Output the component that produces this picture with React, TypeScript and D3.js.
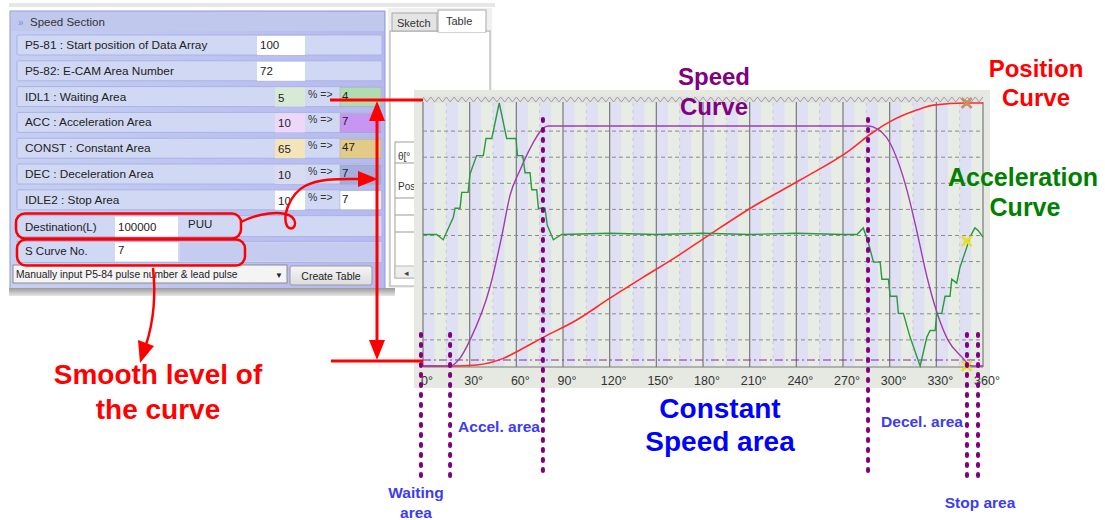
import React from 'react';
import * as d3 from 'd3';

// ---------- data ----------
const degreeTicks = [0, 30, 60, 90, 120, 150, 180, 210, 240, 270, 300, 330, 360];

// acceleration curve (deg, normalized accel -1..1)
const accelCurve: [number, number][] = [
  [0, 0], [8.8, 0], [13, -0.04], [19.5, 0.13], [20.6, 0.2], [23.8, 0.2], [24.9, 0.32],
  [29, 0.32], [30.2, 0.46], [34.5, 0.6], [38.8, 0.6], [40.5, 0.73], [44.2, 0.73],
  [49, 1.0], [53.8, 0.73], [59.8, 0.73], [60.7, 0.6], [64.1, 0.6], [65.6, 0.47],
  [68.8, 0.47], [69.9, 0.34], [73.1, 0.34], [74.2, 0.2], [78.4, 0.2], [79.9, 0.07],
  [83.8, -0.04], [89.2, 0], [120, 0.01], [150, 0], [180, 0.01], [210, 0], [240, 0.01],
  [270, 0], [279, 0], [283, 0.05], [286, -0.05], [289.6, -0.21], [293.9, -0.21],
  [295, -0.34], [299.2, -0.34], [300.3, -0.47], [304.6, -0.47], [305.6, -0.6],
  [308.8, -0.6], [313.1, -0.78], [319.6, -1.0], [323.9, -0.78], [326, -0.73],
  [329.2, -0.73], [330.3, -0.6], [333.5, -0.6], [335.6, -0.47], [338.8, -0.47],
  [339.9, -0.34], [343.1, -0.37], [345.2, -0.25], [349.5, -0.1], [351.6, -0.02],
  [354.8, 0.05], [356.9, 0.03], [360, -0.02],
];

// speed curve (deg, normalized speed 0..1)
const speedCurve: [number, number][] = [
  [0, 0], [17.3, 0], [23.8, 0.033], [30.2, 0.108], [43.1, 0.33], [50.6, 0.54],
  [55.9, 0.71], [62.4, 0.817], [70.7, 0.929], [77.1, 0.99], [80.4, 1.0],
  [286, 1.0], [289.3, 0.996], [300.2, 0.929], [311.1, 0.733], [317.6, 0.558],
  [324, 0.371], [330.5, 0.221], [337.5, 0.108], [347.1, 0.033], [350.4, 0.008],
  [352.9, 0], [360, 0],
];

// position curve (deg, normalized position 0..1)
const positionCurve: [number, number][] = [
  [0, 0], [19.3, 0], [34.5, 0.004], [51.6, 0.029], [62.4, 0.061], [77.3, 0.109],
  [98.8, 0.175], [120.2, 0.258], [141.4, 0.337], [163.1, 0.416], [183.4, 0.496],
  [210.2, 0.599], [242.4, 0.707], [274.5, 0.821], [288.4, 0.885], [300.2, 0.929],
  [317.4, 0.973], [328.1, 0.992], [349.5, 1.0], [360, 1.0],
];

// area divider angles (deg)
const dividerDeg = [-1.3, 17.4, 77.1, 286.1, 349.7, 356.8];
const dividerTall = [false, false, true, true, false, false];

// UI panel rows
const panelLabels = [
  'P5-81 : Start position of Data Array',
  'P5-82: E-CAM Area Number',
  'IDL1 : Waiting Area',
  'ACC : Acceleration Area',
  'CONST : Constant Area',
  'DEC : Deceleration Area',
  'IDLE2 : Stop Area',
];
const panelInputs = ['100', '72', '5', '10', '65', '10', '10'];
const panelResults = ['', '', '4', '7', '47', '7', '7'];
const inputColors = ['#ffffff', '#ffffff', '#d6ead6', '#eed8fa', '#f3e5b9', '#d9dcf0', '#ffffff'];
const resultColors = ['', '', '#b2dcb0', '#c896f2', '#e2cb86', '#a6addd', '#ffffff'];

const FONT = 'Liberation Sans, Arial, sans-serif';

export default function App() {
  const x = d3.scaleLinear().domain([0, 360]).range([423, 983]);
  const yPos = d3.scaleLinear().domain([0, 1]).range([366, 103]);
  const ySpd = d3.scaleLinear().domain([0, 1]).range([366, 126]);
  const yAcc = d3.scaleLinear().domain([-1, 1]).range([366, 103]);
  const yGrid = d3.scaleLinear().domain([0, 10]).range([366, 105]);

  const accLine = d3.line<[number, number]>().x(d => x(d[0])).y(d => yAcc(d[1]));
  const spdLine = d3.line<[number, number]>().x(d => x(d[0])).y(d => ySpd(d[1])).curve(d3.curveMonotoneX);
  const posLine = d3.line<[number, number]>().x(d => x(d[0])).y(d => yPos(d[1])).curve(d3.curveMonotoneX);

  const stripes = d3.range(0, 360, 7.5);
  const zig = d3.range(0, 361, 2.5).map((d, i) => [x(d), i % 2 === 0 ? 97 : 102] as [number, number]);
  const zigPath = d3.line()(zig) || '';

  const rowY = (i: number) => 35 + i * 25.8;

  const star = (cx: number, cy: number, color: string) => (
    <g>
      <path d={`M${cx - 5},${cy - 5}L${cx + 5},${cy + 5}M${cx + 5},${cy - 5}L${cx - 5},${cy + 5}`} stroke={color} strokeWidth={2.5} />
      <circle cx={cx} cy={cy} r={3} fill={color} opacity={0.7} />
    </g>
  );

  return (
    <svg width={1105} height={520} style={{ position: 'absolute', left: 0, top: 0, background: '#fff' }} fontFamily={FONT}>
      <defs>
        <linearGradient id="panelBg" x1="0" x2="1" y1="0" y2="0">
          <stop offset="0" stopColor="#c6cff1" />
          <stop offset="1" stopColor="#b6b8f0" />
        </linearGradient>
        <linearGradient id="bottomBar" x1="0" x2="0" y1="0" y2="1">
          <stop offset="0" stopColor="#9a9a9a" />
          <stop offset="1" stopColor="#e6e6e6" />
        </linearGradient>
        <linearGradient id="btn" x1="0" x2="0" y1="0" y2="1">
          <stop offset="0" stopColor="#f6f6f6" />
          <stop offset="1" stopColor="#dcdcdc" />
        </linearGradient>
      </defs>

      {/* top strip */}
      <rect x={9} y={3} width={486} height={4} fill="#e6e6e6" />

      {/* ---------- Speed Section panel ---------- */}
      <rect x={10} y={11} width={375} height={278} fill="url(#panelBg)" stroke="#8f9bd6" />
      <rect x={11} y={12} width={373} height={19} fill="#c0c8ee" />
      <text x={18} y={26} fontSize={10} fill="#8890c0">»</text>
      <text x={30} y={26} fontSize={11.5} fill="#333">Speed Section</text>
      {panelLabels.map((lab, i) => {
        const ty = rowY(i);
        return (
          <g key={lab}>
            <rect x={17} y={ty} width={365} height={20} fill="#d1d8f3" stroke="#a9b4e6" rx={1} />
            <text x={25} y={ty + 14} fontSize={11.8} fill="#222">{lab}</text>
            {i < 2 ? (
              <g>
                <rect x={257} y={ty + 1} width={48} height={19} fill="#fff" />
                <text x={260} y={ty + 14} fontSize={11.5} fill="#222">{panelInputs[i]}</text>
              </g>
            ) : (
              <g>
                <rect x={275} y={ty + 1} width={30} height={19} fill={inputColors[i]} />
                <text x={278} y={ty + 15} fontSize={11.5} fill="#222">{panelInputs[i]}</text>
                <text x={308} y={ty + 11} fontSize={10.5} fill="#333">% =&gt;</text>
                <rect x={340} y={ty + 1} width={41} height={19} fill={resultColors[i]} stroke="#9aa" strokeWidth={0.5} />
                <text x={342} y={ty + 13} fontSize={11.5} fill="#222">{panelResults[i]}</text>
              </g>
            )}
          </g>
        );
      })}
      {/* Destination row */}
      <rect x={17} y={rowY(7)} width={365} height={21} fill="#d1d8f3" stroke="#a9b4e6" />
      <text x={25} y={rowY(7) + 15} fontSize={11.5} fill="#222">Destination(L)</text>
      <rect x={115} y={rowY(7) + 1} width={63} height={20} fill="#fff" />
      <text x={118} y={rowY(7) + 15} fontSize={11.5} fill="#222">100000</text>
      <text x={188} y={rowY(7) + 12} fontSize={11.5} fill="#222">PUU</text>
      {/* S curve row */}
      <rect x={17} y={rowY(8)} width={365} height={21} fill="#d1d8f3" stroke="#a9b4e6" />
      <rect x={180} y={rowY(8) + 1} width={200} height={19} fill="#c5ccf0" />
      <text x={25} y={rowY(8) + 14} fontSize={11.5} fill="#222">S Curve No.</text>
      <rect x={115} y={rowY(8) + 1} width={63} height={19} fill="#fff" />
      <text x={118} y={rowY(8) + 13} fontSize={11.5} fill="#222">7</text>
      {/* dropdown + button */}
      <rect x={13} y={265} width={274} height={18} fill="#f4f4f4" stroke="#8c8c8c" />
      <text x={16} y={278} fontSize={10.3} fill="#222">Manually input P5-84 pulse number &amp; lead pulse</text>
      <text x={275} y={278} fontSize={8} fill="#222">▼</text>
      <rect x={290} y={266} width={82} height={19} fill="url(#btn)" stroke="#9a9a9a" rx={2} />
      <text x={331} y={280} fontSize={10.5} fill="#222" textAnchor="middle">Create Table</text>
      <rect x={9} y={288} width={386} height={8} fill="url(#bottomBar)" />

      {/* ---------- Sketch / Table panel ---------- */}
      <rect x={388} y={8} width={104} height={280} fill="#f0f0f0" />
      <rect x={390} y={31} width={100} height={255} fill="#fff" stroke="#a8a8a8" />
      <rect x={392} y={13} width={45} height={18} fill="#e4e4e4" stroke="#a8a8a8" />
      <text x={397} y={27} fontSize={11} fill="#333">Sketch</text>
      <rect x={438} y={10} width={48} height={22} fill="#fff" stroke="#a8a8a8" />
      <line x1={439} x2={485} y1={31} y2={31} stroke="#fff" strokeWidth={2} />
      <text x={446} y={25} fontSize={11} fill="#333">Table</text>
      <rect x={395} y={142} width={40} height={136} fill="#fff" stroke="#a0a0a0" />
      <line x1={395} x2={435} y1={163} y2={163} stroke="#999" />
      <text x={398} y={160} fontSize={10} fill="#333">θ[°</text>
      <text x={398} y={190} fontSize={10} fill="#333">Pos</text>
      <line x1={395} x2={435} y1={198} y2={198} stroke="#999" />
      <line x1={395} x2={435} y1={215} y2={215} stroke="#999" />
      <line x1={395} x2={435} y1={232} y2={232} stroke="#999" />
      <rect x={395} y={266} width={40} height={12} fill="#eee" stroke="#bbb" />
      <text x={404} y={276} fontSize={9} fill="#444">◂</text>

      {/* ---------- chart panel ---------- */}
      <rect x={414} y={90} width={576} height={298} fill="#e5e9e1" />
      {stripes.map((d, i) => (
        <rect key={d} x={x(d)} y={102} width={x(d + 7.5) - x(d)} height={264}
          fill={i % 2 === 0 ? '#dfe0f3' : '#e7ece4'} />
      ))}
      <rect x={423} y={96} width={560} height={7} fill="#e2e2e2" />
      <path d={zigPath} fill="none" stroke="#a0a0a0" strokeWidth={1} />
      {/* minor vertical dashed lines */}
      {degreeTicks.slice(0, -1).map(d => (
        <line key={'m' + d} x1={x(d + 15)} x2={x(d + 15)} y1={103} y2={366} stroke="#c4c4d2" strokeDasharray="3,4" strokeWidth={0.8} />
      ))}
      {/* major vertical gridlines */}
      {degreeTicks.map(d => (
        <line key={'v' + d} x1={x(d)} x2={x(d)} y1={102} y2={367} stroke="#7a7a7a" strokeWidth={1.2} />
      ))}
      {/* horizontal dashed gridlines */}
      {d3.range(1, 10).map(k => (
        <line key={'h' + k} x1={423} x2={983} y1={yGrid(k)} y2={yGrid(k)} stroke="#8c8c8c" strokeDasharray="4,3" strokeWidth={1} />
      ))}
      <line x1={423} x2={983} y1={367} y2={367} stroke="#7a7a7a" strokeWidth={1.2} />
      {/* purple dash-dot level */}
      <line x1={423} x2={983} y1={360} y2={360} stroke="#8a2a9a" strokeDasharray="8,3,2,3" strokeWidth={1} />

      {/* curves */}
      <path d={posLine(positionCurve) || ''} fill="none" stroke="#ff2a2a" strokeWidth={1.6} />
      <path d={spdLine(speedCurve) || ''} fill="none" stroke="#a03cb0" strokeWidth={1.4} />
      <path d={accLine(accelCurve) || ''} fill="none" stroke="#2a9a3a" strokeWidth={1.4} />

      {star(x(349.5), yPos(1), '#c89060')}
      {star(x(349.5), yAcc(-0.05), '#e8e020')}
      {star(x(349.5), ySpd(0), '#e8e020')}

      {/* tick labels */}
      {degreeTicks.map(d => (
        <text key={'t' + d} x={x(d) + 4} y={385} fontSize={12.5} fill="#333" textAnchor="middle">{d}°</text>
      ))}

      {/* dotted dividers */}
      {dividerDeg.map((d, i) => (
        <line key={'dv' + i} x1={x(d)} x2={x(d)} y1={dividerTall[i] ? 119 : 334} y2={dividerTall[i] ? 476 : 482}
          stroke="#800080" strokeWidth={4} strokeLinecap="round" strokeDasharray="2,8" />
      ))}

      {/* ---------- red annotations ---------- */}
      <line x1={330} x2={423} y1={100} y2={100} stroke="#ff0000" strokeWidth={3} />
      <line x1={331} x2={423} y1={361} y2={361} stroke="#ff0000" strokeWidth={3} />
      <line x1={377} x2={377} y1={115} y2={346} stroke="#ff0000" strokeWidth={3} />
      <polygon points="377,101 369,121 385,121" fill="#ff0000" />
      <polygon points="377,360 369,340 385,340" fill="#ff0000" />

      <rect x={16} y={rowY(7) - 2} width={225} height={25} rx={9} fill="none" stroke="#ff0000" strokeWidth={2.5} />
      <rect x={17} y={rowY(8) - 2} width={228} height={26} rx={9} fill="none" stroke="#ff0000" strokeWidth={2.5} />
      <path d="M241,222 C258,213 282,210 292,217 C299,224 292,233 287,226 C282,216 290,194 305,186 C320,178 340,179 360,179"
        fill="none" stroke="#ff0000" strokeWidth={2.5} />
      <polygon points="378,179 358,171 358,187" fill="#ff0000" />
      <path d="M153,268 C156,295 154,320 146,345" fill="none" stroke="#ff0000" strokeWidth={2.5} />
      <polygon points="140,363 138,340 154,346" fill="#ff0000" />

      <text x={158} y={384} fontSize={28} fontWeight="bold" fill="#ff0000" textAnchor="middle">Smooth level of</text>
      <text x={158} y={419} fontSize={28} fontWeight="bold" fill="#ff0000" textAnchor="middle">the curve</text>

      {/* chart labels */}
      <text x={714} y={85} fontSize={24} fontWeight="bold" fill="#800080" textAnchor="middle">Speed</text>
      <text x={714} y={115} fontSize={24} fontWeight="bold" fill="#800080" textAnchor="middle">Curve</text>
      <text x={1036} y={77} fontSize={24} fontWeight="bold" fill="#ff0000" textAnchor="middle">Position</text>
      <text x={1036} y={106} fontSize={24} fontWeight="bold" fill="#ff0000" textAnchor="middle">Curve</text>
      <text x={1023} y={186} fontSize={25} fontWeight="bold" fill="#008000" textAnchor="middle">Acceleration</text>
      <text x={1025} y={216} fontSize={25} fontWeight="bold" fill="#008000" textAnchor="middle">Curve</text>
      <text x={720} y={418} fontSize={28} fontWeight="bold" fill="#0000ff" textAnchor="middle">Constant</text>
      <text x={720} y={451} fontSize={28} fontWeight="bold" fill="#0000ff" textAnchor="middle">Speed area</text>
      <text x={499} y={432} fontSize={15.5} fontWeight="bold" fill="#3c3cf0" textAnchor="middle">Accel. area</text>
      <text x={922} y={427} fontSize={15.5} fontWeight="bold" fill="#3c3cf0" textAnchor="middle">Decel. area</text>
      <text x={416} y={498} fontSize={15.5} fontWeight="bold" fill="#3c3cf0" textAnchor="middle">Waiting</text>
      <text x={416} y={518} fontSize={15.5} fontWeight="bold" fill="#3c3cf0" textAnchor="middle">area</text>
      <text x={980} y={508} fontSize={15.5} fontWeight="bold" fill="#3c3cf0" textAnchor="middle">Stop area</text>
    </svg>
  );
}
